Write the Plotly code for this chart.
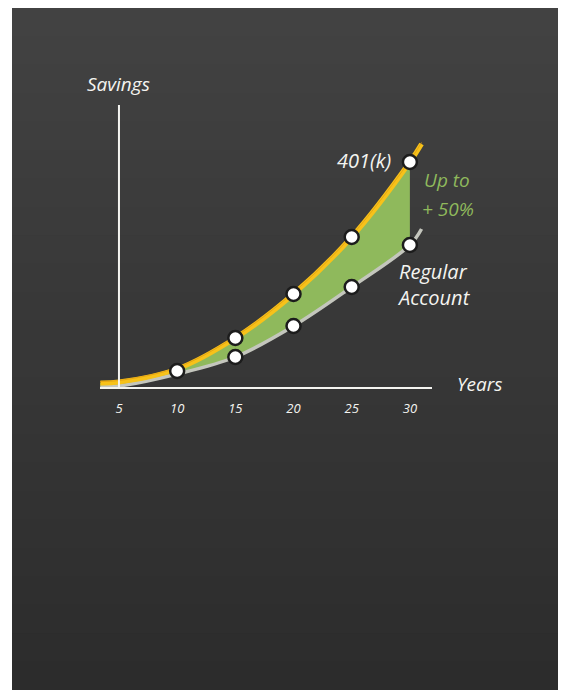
import plotly.graph_objects as go

# savings curves (arbitrary units, 0 = x axis)
years = [3.4, 5, 10, 15, 20, 25, 30]
k401 = [4, 5, 18, 49, 93, 150, 225]
regular = [0, 1, 13, 30, 61, 100, 142]

# the chalk strokes run a little past year 30
ext_years = [30, 31]
k401_ext = [225, 243]
regular_ext = [142, 158]

# white dots (the one at year 10 sits between both curves)
k401_dot_years = [10, 15, 20, 25, 30]
k401_dots = [16, 49, 93, 150, 225]
regular_dot_years = [15, 20, 25, 30]
regular_dots = [30, 61, 100, 142]

tick_years = [5, 10, 15, 20, 25, 30]

W, H = 566, 693
OFF = 8  # page body margin; reference pixel coords are measured in the window
L, R, T, B = 100 - OFF, 566 - (432 - OFF), 105 - OFF, 693 - (387 - OFF)
pw, ph = W - L - R, H - T - B

chalk = "#f4f4f0"
green = "#8fb95c"
yellow = "#f7c21a"
grey = "#c4c6bd"
font = "Open Sans"


def px_x(p):
    # window pixel -> paper x
    return (p - OFF - L) / pw


def px_y(p):
    # window pixel -> paper y
    return (H - B - (p - OFF)) / ph


fig = go.Figure()

# green band between the two curves
fig.add_trace(go.Scatter(x=years, y=regular, mode="lines", line=dict(color=grey, width=0, shape="spline"),
                         hoverinfo="skip", showlegend=False))
fig.add_trace(go.Scatter(x=years, y=k401, mode="lines", fill="tonexty", fillcolor=green,
                         line=dict(color=yellow, width=0, shape="spline"), hoverinfo="skip", showlegend=False))

# regular account line
fig.add_trace(go.Scatter(x=years + ext_years[1:], y=regular + regular_ext[1:], mode="lines",
                         line=dict(color=grey, width=3.5, shape="spline"), showlegend=False, cliponaxis=False))
# 401(k) line, with a second thinner stroke for the chalk look
fig.add_trace(go.Scatter(x=years + ext_years[1:], y=k401 + k401_ext[1:], mode="lines",
                         line=dict(color=yellow, width=5, shape="spline"), showlegend=False, cliponaxis=False))
fig.add_trace(go.Scatter(x=years + ext_years[1:], y=[v + 1.5 for v in k401 + k401_ext[1:]], mode="lines",
                         line=dict(color="#e59f12", width=1, shape="spline"), opacity=0.8, showlegend=False,
                         cliponaxis=False))

# white dots
for xs, ys in ((regular_dot_years, regular_dots), (k401_dot_years, k401_dots)):
    fig.add_trace(go.Scatter(x=xs, y=ys, mode="markers",
                             marker=dict(size=14, color="white", line=dict(color="#1c1c1c", width=2.5)),
                             showlegend=False, cliponaxis=False))

# chalkboard background: bands that each run to the bottom (light top -> dark bottom)
shapes = []
n = 24
top, bot = (66, 66, 66), (44, 44, 44)
y_top, y_bot = 8, 690
for i in range(n):
    t = i / (n - 1)
    c = tuple(round(top[k] + (bot[k] - top[k]) * t) for k in range(3))
    a = y_top + (y_bot - y_top) * i / n
    shapes.append(dict(type="rect", xref="paper", yref="paper", x0=px_x(12), x1=px_x(560),
                       y0=px_y(y_bot), y1=px_y(a), fillcolor="rgb(%d,%d,%d)" % c, line_width=0, layer="below"))

# savings axis
shapes.append(dict(type="line", xref="x", yref="paper", x0=5, x1=5, y0=0, y1=1,
                   line=dict(color=chalk, width=2)))

ann = dict(showarrow=False, font=dict(family=font, color=chalk, size=20, style="italic"))
greenfont = dict(family=font, color=green, size=19, style="italic")
annotations = [
    dict(ann, text="Savings", x=5, y=1, yref="paper", yanchor="bottom", yshift=6, xanchor="center",
         font=dict(family=font, color=chalk, size=19, style="italic")),
    dict(ann, text="Years", x=px_x(455), xref="paper", y=0, yref="paper", xanchor="left", yanchor="middle", yshift=3,
         font=dict(family=font, color=chalk, size=19, style="italic")),
    dict(ann, text="401(k)", x=px_x(393), xref="paper", y=px_y(160), yref="paper", xanchor="right", yanchor="middle"),
    dict(ann, text="Regular", x=px_x(397), xref="paper", y=px_y(271), yref="paper", xanchor="left", yanchor="middle"),
    dict(ann, text="Account", x=px_x(395), xref="paper", y=px_y(297), yref="paper", xanchor="left", yanchor="middle"),
    dict(ann, text="Up to", x=px_x(422), xref="paper", y=px_y(180), yref="paper", xanchor="left", yanchor="middle",
         font=greenfont),
    dict(ann, text="+ 50%", x=px_x(420), xref="paper", y=px_y(209), yref="paper", xanchor="left", yanchor="middle",
         font=greenfont),
]

fig.update_layout(
    width=W, height=H,
    margin=dict(l=L, r=R, t=T, b=B),
    paper_bgcolor="white",
    plot_bgcolor="rgba(0,0,0,0)",
    shapes=shapes,
    annotations=annotations,
    xaxis=dict(range=[3.37, 31.9], showgrid=False, zeroline=False, showline=True, linecolor=chalk, linewidth=2,
               tickvals=tick_years, ticks="", ticklabelstandoff=8,
               tickfont=dict(family=font, color=chalk, size=13, style="italic")),
    yaxis=dict(range=[0, 282], visible=False),
)

fig.write_html("out.html")
